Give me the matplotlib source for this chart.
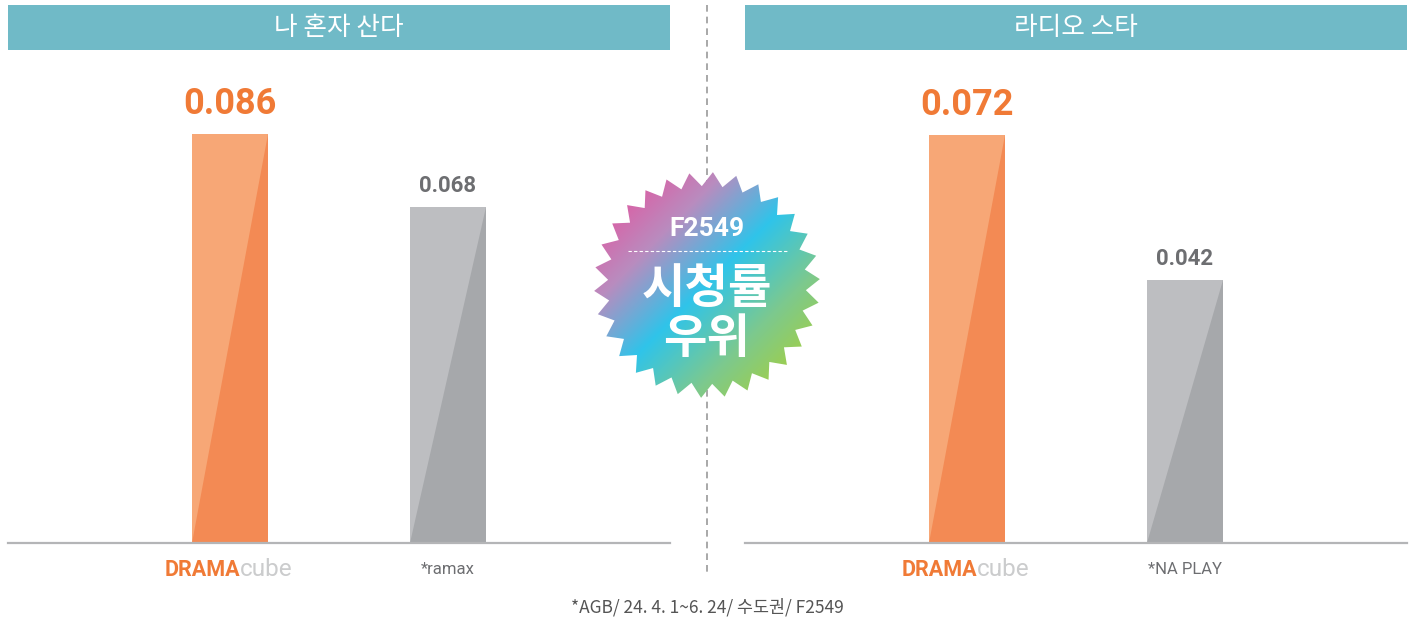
import numpy as np
import matplotlib
matplotlib.use("Agg")
import matplotlib.pyplot as plt
from matplotlib.patches import Rectangle, Polygon
from matplotlib.colors import LinearSegmentedColormap
from matplotlib.lines import Line2D

# ---- data ----
panel_titles = ["나 혼자 산다", "라디오 스타"]
channels_left = ["DRAMAcube", "*ramax"]
channels_right = ["DRAMAcube", "*NA PLAY"]
values_left = [0.086, 0.068]
values_right = [0.072, 0.042]
ylims_left = (-0.0148, 0.1055)
ylims_right = (-0.0124, 0.0886)
badge_lines = ["F2549", "시청률", "우위"]
footnote = "*AGB/ 24. 4. 1~6. 24/ 수도권/ F2549"

W, H = 1409, 621
KR = ['Noto Sans CJK KR', 'DejaVu Sans']
NUM = ['Roboto', 'DejaVu Sans']

ORANGE_L, ORANGE_D = "#f7a776", "#f38a54"
GRAY_L, GRAY_D = "#bdbec1", "#a6a8ab"
TEAL = "#70bac7"

fig = plt.figure(figsize=(W / 100, H / 100), dpi=100)
fig.patch.set_facecolor("white")


def fx(px):
    return px / W


def fy(py):
    return 1 - py / H


def panel(x0, x1, title, labels, values, ylims):
    # title bar
    fig.add_artist(Rectangle((fx(x0), fy(50)), fx(x1 - x0), 45 / H,
                             transform=fig.transFigure, color=TEAL, lw=0))
    fig.text(fx((x0 + x1) / 2), fy(28), title, color="white", fontsize=18.5,
             ha="center", va="center", family=KR)
    ax = fig.add_axes([fx(x0), fy(543), fx(x1 - x0), (543 - 55) / H])
    ax.set_xlim(-1.023, 2.023)
    ax.set_ylim(*ylims)
    ymin = ylims[0]
    x = np.arange(len(values))
    heights = [v - ymin for v in values]
    cols = [(ORANGE_L, ORANGE_D), (GRAY_L, GRAY_D)]
    bars = ax.bar(x, heights, bottom=ymin, width=0.35, color=[c[1] for c in cols], lw=0)
    for b, (cl, cd) in zip(bars, cols):
        l, bt = b.get_x(), b.get_y()
        r, t = l + b.get_width(), bt + b.get_height()
        ax.add_patch(Polygon([(l, bt), (l, t), (r, t)], closed=True, color=cl, lw=0))
    # value labels
    ax.annotate(f"{values[0]:.3f}", (x[0], values[0]), xytext=(0, 9), textcoords="offset points",
                ha="center", va="bottom", color="#f07a36", fontsize=26, fontweight="bold", family=NUM)
    ax.annotate(f"{values[1]:.3f}", (x[1], values[1]), xytext=(0, 7), textcoords="offset points",
                ha="center", va="bottom", color="#6d6e71", fontsize=16, fontweight="bold", family=NUM)
    for s in ["top", "right", "left"]:
        ax.spines[s].set_visible(False)
    ax.spines["bottom"].set_color("#b4b5b7")
    ax.spines["bottom"].set_linewidth(1.6)
    ax.set_xticks([])
    ax.set_yticks([])
    ax.patch.set_alpha(0)
    # x labels
    lab0 = labels[0]
    ax.annotate(lab0[:5], (x[0], ymin), xytext=(7, -24), textcoords="offset points",
                ha="right", va="baseline", color="#f07a36", fontsize=15.5, fontweight="bold", family=NUM)
    ax.annotate(lab0[5:], (x[0], ymin), xytext=(7, -24), textcoords="offset points",
                ha="left", va="baseline", color="#cbcccd", fontsize=17.5, family=NUM)
    ax.annotate(labels[1], (x[1], ymin), xytext=(0, -22), textcoords="offset points",
                ha="center", va="baseline", color="#6d6e71", fontsize=12, family=NUM)
    return ax


panel(8, 670, panel_titles[0], channels_left, values_left, ylims_left)
panel(745, 1407, panel_titles[1], channels_right, values_right, ylims_right)

# dashed divider (behind the badge)
fig.add_artist(Line2D([fx(707), fx(707)], [fy(5), fy(575)], transform=fig.transFigure,
                      color="#9a9a9a", lw=1.2, linestyle=(0, (4, 3)), zorder=-1))

# badge
cx, cy, S = 707, 285, 125
bax = fig.add_axes([fx(cx - S), fy(cy + S), fx(2 * S), 2 * S / H])
bax.set_zorder(5)
bax.set_xlim(-S, S)
bax.set_ylim(-S, S)
bax.axis("off")
n = 30
ang = np.deg2rad(90 - 3 - np.arange(2 * n) * (180 / n))
rad = np.where(np.arange(2 * n) % 2 == 0, 113, 99)
star = Polygon(np.c_[rad * np.cos(ang), rad * np.sin(ang)], closed=True, lw=0, fc="none")
bax.add_patch(star)
gx, gy = np.meshgrid(np.linspace(-S, S, 300), np.linspace(S, -S, 300))
grad = (gx - gy)
cmap = LinearSegmentedColormap.from_list("badge", ["#e4549e", "#b98cbf", "#2fc4ea", "#7cc98f", "#a8d03a"])
im = bax.imshow(grad, extent=(-S, S, -S, S), cmap=cmap, vmin=-190, vmax=190, origin="upper")
im.set_clip_path(star)
bax.text(0, cy - 229, badge_lines[0], color="white", fontsize=19, fontweight="bold",
         ha="center", va="center", family=NUM)
bax.plot([-79, 80], [cy - 251, cy - 251], color="white", lw=0.8, linestyle=(0, (3, 2)))
bax.text(0, cy - 289, badge_lines[1], color="white", fontsize=34, fontweight="bold",
         ha="center", va="center", family=KR)
bax.text(0, cy - 339, badge_lines[2], color="white", fontsize=34, fontweight="bold",
         ha="center", va="center", family=KR)

fig.text(fx(707), fy(607), footnote, color="#555555", fontsize=12.5, ha="center", va="center", family=KR)

fig.savefig("out.png", dpi=100)
